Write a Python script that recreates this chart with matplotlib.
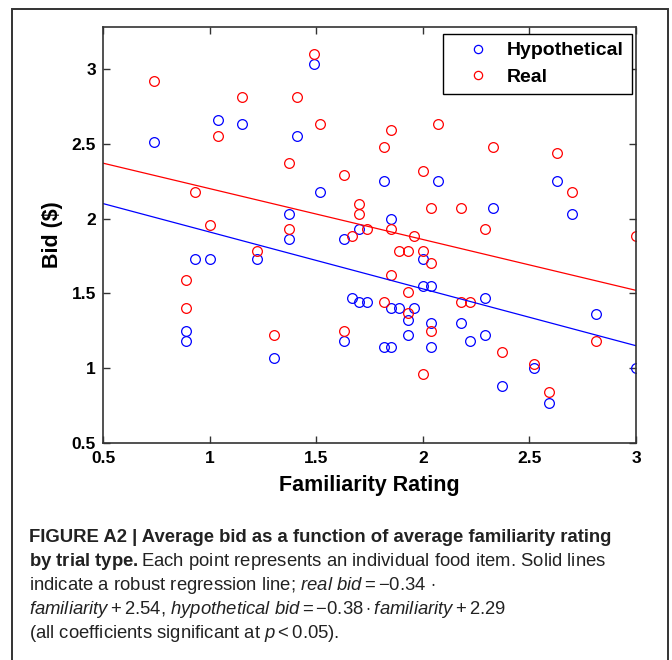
import numpy as np
import matplotlib
matplotlib.use("Agg")
import matplotlib.pyplot as plt
from matplotlib.patches import Rectangle

# values
hyp_x = [0.74, 1.04, 1.15, 1.41, 1.49, 1.37, 1.37, 1.52, 1.82, 2.07, 2.33, 2.63,
         2.70, 1.85, 1.70, 1.63, 0.93, 1.00, 1.22, 0.89, 0.89, 1.30, 2.00, 2.00,
         2.04, 1.67, 1.70, 1.74, 1.85, 1.89, 1.96, 1.93, 2.04, 2.18, 2.22, 1.63,
         1.93, 1.82, 1.85, 2.04, 2.29, 2.29, 2.37, 2.52, 2.59, 2.81, 3.00]
hyp_y = [2.51, 2.66, 2.63, 2.55, 3.03, 2.03, 1.86, 2.18, 2.25, 2.25, 2.07, 2.25,
         2.03, 2.00, 1.93, 1.86, 1.73, 1.73, 1.73, 1.25, 1.18, 1.07, 1.73, 1.55,
         1.55, 1.47, 1.44, 1.44, 1.40, 1.40, 1.40, 1.32, 1.30, 1.30, 1.18, 1.18,
         1.22, 1.14, 1.14, 1.14, 1.47, 1.22, 0.88, 1.00, 0.77, 1.36, 1.00]

real_x = [0.74, 1.15, 1.41, 1.04, 1.37, 0.93, 1.00, 1.37, 1.49, 1.52, 1.85, 2.07,
          1.82, 1.63, 2.00, 1.70, 1.70, 2.04, 2.18, 1.74, 1.85, 1.67, 1.96, 2.33,
          2.63, 2.70, 2.29, 3.00, 1.22, 0.89, 0.89, 1.30, 1.89, 1.93, 2.00, 2.04,
          1.85, 1.93, 1.82, 1.93, 2.04, 1.63, 2.00, 2.18, 2.22, 2.37, 2.52, 2.59,
          2.81]
real_y = [2.92, 2.81, 2.81, 2.55, 2.37, 2.18, 1.96, 1.93, 3.10, 2.63, 2.59, 2.63,
          2.48, 2.29, 2.32, 2.10, 2.03, 2.07, 2.07, 1.93, 1.93, 1.88, 1.88, 2.48,
          2.44, 2.18, 1.93, 1.88, 1.78, 1.59, 1.40, 1.22, 1.78, 1.78, 1.78, 1.70,
          1.62, 1.51, 1.44, 1.37, 1.25, 1.25, 0.96, 1.44, 1.44, 1.11, 1.03, 0.84,
          1.18]

# robust regression: slope, intercept
real_fit = (-0.34, 2.54)
hyp_fit = (-0.38, 2.29)

x_ticks = [0.5, 1, 1.5, 2, 2.5, 3]
y_ticks = [0.5, 1, 1.5, 2, 2.5, 3]

caption = [
    ("FIGURE A2 | Average bid as a function of average familiarity rating", "bold"),
    (r"$\mathbf{by\ trial\ type.}$Each point represents an individual food item. Solid lines", "normal"),
    (r"indicate a robust regression line; $\mathit{real\ bid} = -0.34\,\cdot$", "normal"),
    (r"$\mathit{familiarity} + 2.54$, $\mathit{hypothetical\ bid} = -0.38 \cdot \mathit{familiarity} + 2.29$", "normal"),
    (r"(all coefficients significant at $\mathit{p} < 0.05$).", "normal"),
]

font = "Liberation Sans"
plt.rcParams["mathtext.fontset"] = "custom"
plt.rcParams["mathtext.rm"] = font
plt.rcParams["mathtext.it"] = font + ":italic"
plt.rcParams["mathtext.bf"] = font + ":bold"

fig = plt.figure(figsize=(6.72, 6.6), dpi=100)
ax = fig.add_axes([0.1533, 0.3288, 0.7932, 0.6303])

ax.plot(hyp_x, hyp_y, "o", mfc="none", mec="#0000ff", ms=7, mew=0.9, label="Hypothetical")
ax.plot(real_x, real_y, "o", mfc="none", mec="#ff0000", ms=7, mew=0.9, label="Real")

xl = np.array([0.5, 3.0])
ax.plot(xl, real_fit[0] * xl + real_fit[1], color="#ff0000", lw=0.9)
ax.plot(xl, hyp_fit[0] * xl + hyp_fit[1], color="#0000ff", lw=0.9)

ax.set_xlim(0.5, 3.0)
ax.set_ylim(0.5, 3.28)
ax.set_xticks(x_ticks)
ax.set_yticks(y_ticks)
ax.set_xticklabels(["%g" % t for t in x_ticks])
ax.set_yticklabels(["%g" % t for t in y_ticks])
ax.tick_params(direction="in", top=True, right=True, length=5, width=1.0,
               color="#333333", labelsize=12.5)
ax.tick_params(axis="x", pad=6)
ax.tick_params(axis="y", pad=5)
for lab in ax.get_xticklabels() + ax.get_yticklabels():
    lab.set_fontweight("bold")
    lab.set_family(font)
for sp in ax.spines.values():
    sp.set_color("#333333")
    sp.set_linewidth(1.2)

ax.set_xlabel("Familiarity Rating", fontsize=15.5, fontweight="bold",
              family=font, labelpad=6)
ax.set_ylabel("Bid (\\$)", fontsize=15.5, fontweight="bold",
              family=font, labelpad=6)

leg = ax.legend(loc="upper right", bbox_to_anchor=(0.992, 0.983), borderaxespad=0,
                fancybox=False, framealpha=1, edgecolor="black",
                prop={"family": font, "weight": "bold", "size": 14},
                handlelength=2.8, handletextpad=0.1, borderpad=0.4, labelspacing=0.45,
                markerscale=0.85)
leg.get_frame().set_linewidth(1.0)

# outer figure frame
fig.patches.append(Rectangle((12 / 672, -0.02), 656 / 672, 1 - 9 / 660 + 0.02,
                             transform=fig.transFigure, fill=False,
                             edgecolor="#333333", lw=1.4))

y0 = 537
for text, weight in caption:
    fig.text(29 / 672, 1 - y0 / 660, text, fontsize=13.3, fontweight=weight,
             family=font, va="center", ha="left", color="#222222")
    y0 += 24

fig.savefig("out.png", dpi=100)
